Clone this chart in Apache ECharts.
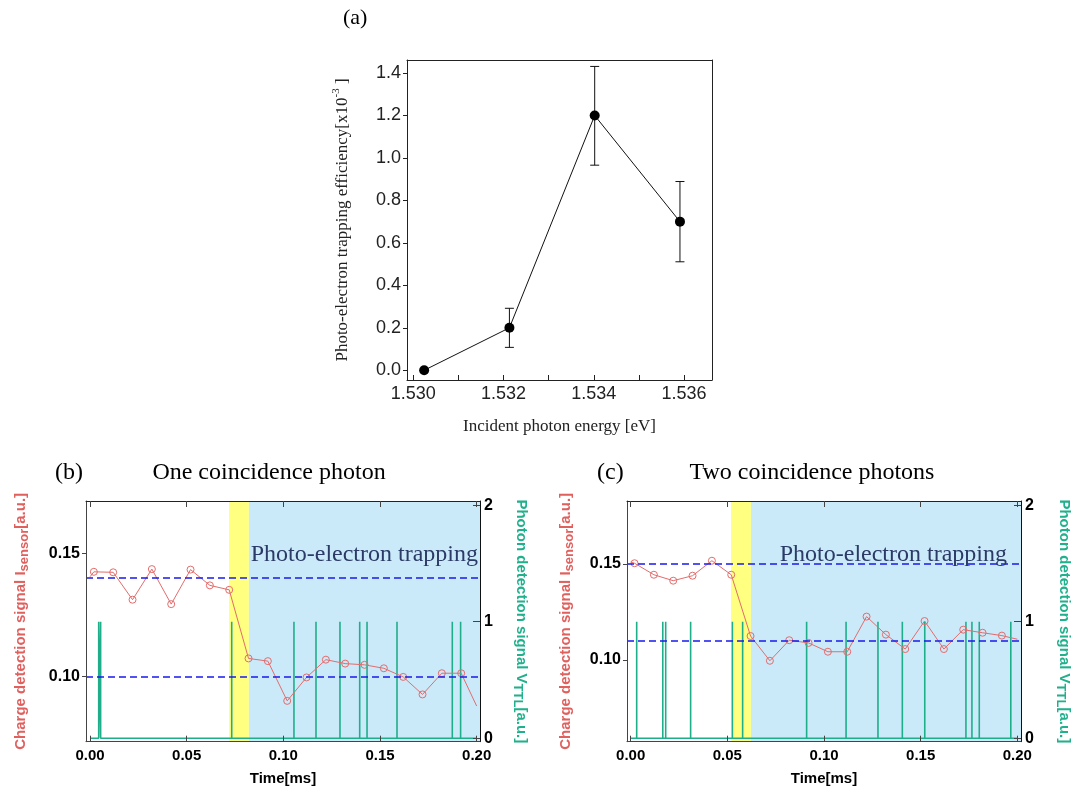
<!DOCTYPE html>
<html><head><meta charset="utf-8">
<script src="https://cdn.jsdelivr.net/npm/echarts@6/dist/echarts.min.js"></script>
<style>html,body{margin:0;padding:0;background:#fff}#c{width:1084px;height:792px}</style>
</head><body><div id="c"></div>
<script>
// ---------- Panel (a) ----------
const energyA = [1.53024, 1.53213, 1.53402, 1.53591];
const effA = [0.0, 0.2, 1.2, 0.7];
const errLowA = [0.0, 0.108, 0.966, 0.511];
const errHighA = [0.0, 0.292, 1.431, 0.889];
const xTicksA = [1.530, 1.531, 1.532, 1.533, 1.534, 1.535, 1.536];
const xLabelsA = [1.530, 1.532, 1.534, 1.536];
const yLabelsA = [0, 0.2, 0.4, 0.6, 0.8, 1.0, 1.2, 1.4];

// ---------- Panel (b) ----------
const timeB = [0, 0.002, 0.012, 0.022, 0.032, 0.042, 0.052, 0.062, 0.072, 0.082, 0.092, 0.102, 0.112, 0.122, 0.132, 0.142, 0.152, 0.162, 0.172, 0.182, 0.192, 0.2];
const sensorB = [0.1405, 0.1425, 0.1423, 0.1312, 0.1436, 0.1294, 0.1434, 0.1370, 0.1352, 0.1074, 0.1063, 0.0902, 0.0997, 0.1069, 0.1053, 0.1048, 0.1034, 0.0999, 0.0928, 0.1014, 0.1014, 0.0881];
const pulsesB = [0.0045, 0.0055, 0.0733, 0.1055, 0.1169, 0.1293, 0.1395, 0.1433, 0.1588, 0.1874, 0.1917];
const levelsB = [0.1396, 0.0985];
const gateB = [0.0719, 0.0822];

// ---------- Panel (c) ----------
const timeC = [0, 0.002, 0.012, 0.022, 0.032, 0.042, 0.052, 0.062, 0.072, 0.082, 0.092, 0.102, 0.112, 0.122, 0.132, 0.142, 0.152, 0.162, 0.172, 0.182, 0.192, 0.2];
const sensorC = [0.1510, 0.1504, 0.1444, 0.1413, 0.1439, 0.1517, 0.1444, 0.1125, 0.0996, 0.1103, 0.1089, 0.1043, 0.1043, 0.1226, 0.1132, 0.1057, 0.1203, 0.1057, 0.1158, 0.1142, 0.1127, 0.1108];
const pulsesC = [0.0031, 0.0166, 0.0181, 0.0310, 0.0526, 0.0579, 0.0910, 0.1114, 0.1279, 0.1405, 0.1521, 0.1734, 0.1765, 0.1803, 0.1966];
const levelsC = [0.1470, 0.1108];
const gateC = [0.0519, 0.0622];

const timeTicks = [0, 0.05, 0.10, 0.15, 0.20];
const sensorTicks = [0.10, 0.15];
const ttlTicks = [0, 1, 2];

const RED = '#e0605e', REDLINE = '#e36c6c', GREEN = '#1fb08c', PULSE = '#1fae8a';
const SANS = '"Liberation Sans", Arial, sans-serif';
const SERIF = '"Liberation Serif", "Times New Roman", serif';

const chart = echarts.init(document.getElementById('c'), null, {renderer: 'canvas'});

function sensorData(times, vals) {
  return times.map((t, i) => {
    const it = {value: [t, vals[i]]};
    if (i === 0 || i === times.length - 1) it.symbol = 'none';
    return it;
  });
}
function pulseData(pulses) {
  const d = [[0, 0]];
  pulses.forEach(t => { d.push([t, 0]); d.push([t, 1]); d.push([t, 0]); });
  d.push([0.2, 0]);
  return d;
}

const richSub = (color) => ({
  m: {fontSize: 15, fontWeight: 'bold', color: color, fontFamily: SANS, lineHeight: 21, verticalAlign: 'middle'},
  s: {fontSize: 13, fontWeight: 'bold', color: color, fontFamily: SANS, lineHeight: 11, verticalAlign: 'bottom'}
});

function timeAxes(gi, xmin, xmax) {
  return [
    {type: 'value', gridIndex: gi, min: xmin, max: xmax, z: 10,
     axisLine: {show: true, onZero: false, lineStyle: {color: '#444', width: 1}},
     axisTick: {show: true, inside: true, length: 6, customValues: timeTicks, lineStyle: {color: '#444'}},
     axisLabel: {show: true, customValues: timeTicks, formatter: v => v.toFixed(2), fontSize: 15, fontWeight: 'bold', color: '#000', fontFamily: SANS, margin: 7},
     splitLine: {show: false},
     name: 'Time[ms]', nameLocation: 'middle', nameGap: 30,
     nameTextStyle: {fontSize: 15, fontWeight: 'bold', color: '#000', fontFamily: SANS}},
    {type: 'value', gridIndex: gi, position: 'top', min: xmin, max: xmax, z: 10,
     axisLine: {show: true, onZero: false, lineStyle: {color: '#222', width: 1}},
     axisTick: {show: true, inside: true, length: 6, customValues: timeTicks, lineStyle: {color: '#444'}},
     axisLabel: {show: false}, splitLine: {show: false}}
  ];
}
function sideAxes(gi, ymin, ymax, gapL, gapR) {
  return [
    {type: 'value', gridIndex: gi, min: ymin, max: ymax, z: 10,
     axisLine: {show: true, onZero: false, lineStyle: {color: '#444', width: 1}},
     axisTick: {show: true, inside: false, length: 4, customValues: sensorTicks, lineStyle: {color: '#444'}},
     axisLabel: {show: true, customValues: sensorTicks, formatter: v => v.toFixed(2), fontSize: 16, fontWeight: 'bold', color: '#000', fontFamily: SANS, margin: 6},
     splitLine: {show: false},
     name: '{m|Charge detection signal I}{s|sensor}{m|[a.u.]}', nameLocation: 'middle', nameGap: gapL, nameRotate: 90,
     nameTextStyle: {color: RED, fontSize: 15, fontWeight: 'bold', fontFamily: SANS, rich: richSub(RED)}},
    {type: 'value', gridIndex: gi, position: 'right', min: -0.0292, max: 2.0352, z: 10,
     axisLine: {show: true, onZero: false, lineStyle: {color: '#111', width: 1}},
     axisTick: {show: true, inside: true, length: 7, customValues: ttlTicks, lineStyle: {color: '#444'}},
     axisLabel: {show: true, customValues: ttlTicks, fontSize: 16, fontWeight: 'bold', color: '#000', fontFamily: SANS, margin: 4},
     splitLine: {show: false},
     name: '{m|Photon detection signal V}{s|TTL}{m|[a.u.]}', nameLocation: 'middle', nameGap: gapR, nameRotate: -90,
     nameTextStyle: {color: GREEN, fontSize: 15, fontWeight: 'bold', fontFamily: SANS, rich: richSub(GREEN)}}
  ];
}

function panelSeries(xi, yl, yr, times, vals, pulses, levels, gate, xmax) {
  return [
    {type: 'line', xAxisIndex: xi, yAxisIndex: yr, z: 1, data: [[-1, -5]], showSymbol: false, silent: true,
     lineStyle: {opacity: 0},
     markArea: {silent: true, label: {show: false}, data: [
       [{xAxis: gate[0], itemStyle: {color: '#ffff80'}}, {xAxis: gate[1]}],
       [{xAxis: gate[1], itemStyle: {color: '#caeafa'}}, {xAxis: xmax}]
     ]}},
    {type: 'line', xAxisIndex: xi, yAxisIndex: yr, z: 2, data: pulseData(pulses), showSymbol: false, silent: true,
     lineStyle: {color: PULSE, width: 1.6}},
    {type: 'line', xAxisIndex: xi, yAxisIndex: yl, z: 3, data: sensorData(times, vals), silent: true,
     symbol: 'circle', symbolSize: 7,
     itemStyle: {color: 'rgba(255,255,255,0)', borderColor: REDLINE, borderWidth: 1},
     lineStyle: {color: REDLINE, width: 1}},
    {type: 'line', xAxisIndex: xi, yAxisIndex: yl, z: 4, data: [[-1, 0]], showSymbol: false, silent: true,
     lineStyle: {opacity: 0},
     markLine: {silent: true, symbol: ['none', 'none'], label: {show: false},
       lineStyle: {color: '#1a1aee', type: [7, 4], width: 1.5},
       data: levels.map(v => ({yAxis: v}))}}
  ];
}

const errData = energyA.map((e, i) => [e, errLowA[i], errHighA[i]]).filter(d => d[2] > d[1]);

const option = {
  animation: false,
  backgroundColor: '#fff',
  grid: [
    {left: 407, top: 60, width: 305, height: 320},
    {left: 86, top: 501, width: 394, height: 240.7},
    {left: 627, top: 501, width: 394, height: 240.7}
  ],
  xAxis: [
    {type: 'value', gridIndex: 0, min: 1.52986, max: 1.53662, z: 10,
     axisLine: {show: true, onZero: false, lineStyle: {color: '#222'}},
     axisTick: {show: true, inside: true, length: 5, customValues: xTicksA, lineStyle: {color: '#222'}},
     axisLabel: {show: true, customValues: xLabelsA, formatter: v => v.toFixed(3), fontSize: 18, color: '#222', fontFamily: SANS, margin: 5},
     splitLine: {show: false},
     name: 'Incident photon energy [eV]', nameLocation: 'middle', nameGap: 38,
     nameTextStyle: {fontSize: 17, color: '#222', fontFamily: SERIF}},
    {type: 'value', gridIndex: 0, position: 'top', min: 1.52986, max: 1.53662, z: 10,
     axisLine: {show: true, onZero: false, lineStyle: {color: '#222'}},
     axisTick: {show: false}, axisLabel: {show: false}, splitLine: {show: false}},
    ...timeAxes(1, -0.00207, 0.20173),
    ...timeAxes(2, -0.00191, 0.20188)
  ],
  yAxis: [
    {type: 'value', gridIndex: 0, min: -0.0457, max: 1.4613, z: 10,
     axisLine: {show: true, onZero: false, lineStyle: {color: '#222'}},
     axisTick: {show: true, inside: false, length: 4, customValues: yLabelsA, lineStyle: {color: '#222'}},
     axisLabel: {show: true, customValues: yLabelsA, formatter: v => v.toFixed(1), fontSize: 18, color: '#222', fontFamily: SANS, margin: 6},
     splitLine: {show: false},
     name: '{m|Photo-electron trapping efficiency[x10}{p|-3}{m| ]}', nameLocation: 'middle', nameGap: 52, nameRotate: 90,
     nameTextStyle: {fontSize: 17, color: '#222', fontFamily: SERIF, rich: {
       m: {fontSize: 17, color: '#222', fontFamily: SERIF, lineHeight: 24, verticalAlign: 'middle'},
       p: {fontSize: 11, color: '#222', fontFamily: SERIF, lineHeight: 12, verticalAlign: 'top'}}}},
    {type: 'value', gridIndex: 0, position: 'right', min: -0.0457, max: 1.4613, z: 10,
     axisLine: {show: true, onZero: false, lineStyle: {color: '#222'}},
     axisTick: {show: false}, axisLabel: {show: false}, splitLine: {show: false}},
    ...sideAxes(1, 0.07365, 0.1712, 55, 31),
    ...sideAxes(2, 0.05745, 0.18281, 51, 33)
  ],
  series: [
    {type: 'custom', xAxisIndex: 0, yAxisIndex: 0, z: 2, data: errData, silent: true,
     renderItem: function (params, api) {
       const x = api.value(0), lo = api.value(1), hi = api.value(2);
       const a = api.coord([x, lo]), b = api.coord([x, hi]);
       const w = 4.5, st = {stroke: '#111', lineWidth: 1};
       return {type: 'group', children: [
         {type: 'line', shape: {x1: a[0], y1: a[1], x2: b[0], y2: b[1]}, style: st},
         {type: 'line', shape: {x1: a[0] - w, y1: a[1], x2: a[0] + w, y2: a[1]}, style: st},
         {type: 'line', shape: {x1: b[0] - w, y1: b[1], x2: b[0] + w, y2: b[1]}, style: st}
       ]};
     }},
    {type: 'line', xAxisIndex: 0, yAxisIndex: 0, z: 3, silent: true,
     data: energyA.map((e, i) => [e, effA[i]]),
     symbol: 'circle', symbolSize: 10, itemStyle: {color: '#000'}, lineStyle: {color: '#111', width: 1}},
    ...panelSeries(2, 2, 3, timeB, sensorB, pulsesB, levelsB, gateB, 0.20173),
    ...panelSeries(4, 4, 5, timeC, sensorC, pulsesC, levelsC, gateC, 0.20188)
  ],
  graphic: [
    {type: 'text', z: 100, x: 343, y: 18, style: {text: '(a)', font: '22px ' + SERIF, fill: '#000', verticalAlign: 'middle'}},
    {type: 'text', z: 100, x: 55, y: 473, style: {text: '(b)', font: '24px ' + SERIF, fill: '#000', verticalAlign: 'middle'}},
    {type: 'text', z: 100, x: 269, y: 473, style: {text: 'One coincidence photon', font: '24px ' + SERIF, fill: '#000', align: 'center', verticalAlign: 'middle'}},
    {type: 'text', z: 100, x: 597, y: 473, style: {text: '(c)', font: '24px ' + SERIF, fill: '#000', verticalAlign: 'middle'}},
    {type: 'text', z: 100, x: 812, y: 473, style: {text: 'Two coincidence photons', font: '24px ' + SERIF, fill: '#000', align: 'center', verticalAlign: 'middle'}},
    {type: 'text', z: 100, x: 478, y: 555, style: {text: 'Photo-electron trapping', font: '24px ' + SERIF, fill: '#2b3a66', align: 'right', verticalAlign: 'middle'}},
    {type: 'text', z: 100, x: 1007, y: 555, style: {text: 'Photo-electron trapping', font: '24px ' + SERIF, fill: '#2b3a66', align: 'right', verticalAlign: 'middle'}}
  ]
};
chart.setOption(option);
</script>
</body></html>
